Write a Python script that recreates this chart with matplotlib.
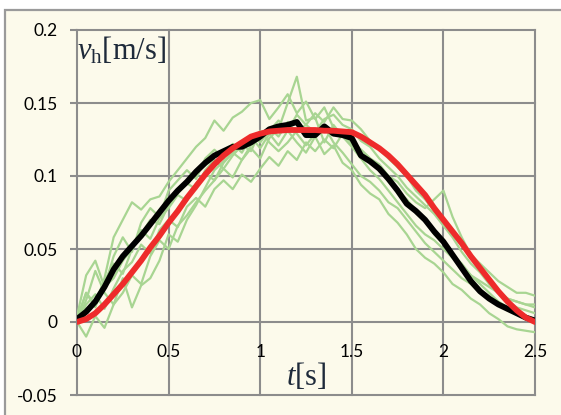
import matplotlib
matplotlib.use("Agg")
import matplotlib.pyplot as plt
import numpy as np
from matplotlib.patches import Rectangle

# sampled time axis (s)
t = np.arange(51) * 0.05

# model velocity (red)
v_model = [0.0, 0.002, 0.006, 0.012, 0.019, 0.026, 0.034, 0.042, 0.051, 0.059,
           0.068, 0.076, 0.085, 0.093, 0.101, 0.108, 0.114, 0.119, 0.123, 0.127,
           0.129, 0.1305, 0.131, 0.1315, 0.1315, 0.1315, 0.1315, 0.131, 0.131, 0.1305,
           0.130, 0.127, 0.123, 0.119, 0.114, 0.108, 0.101, 0.094, 0.087, 0.078,
           0.070, 0.062, 0.054, 0.045, 0.037, 0.029, 0.021, 0.014, 0.008, 0.003, 0.0]

# mean of trials (black)
v_mean = [0.002, 0.007, 0.014, 0.024, 0.036, 0.045, 0.052, 0.059, 0.067, 0.075,
          0.083, 0.090, 0.096, 0.103, 0.109, 0.114, 0.117, 0.120, 0.120, 0.123,
          0.127, 0.132, 0.134, 0.135, 0.137, 0.128, 0.128, 0.134, 0.129, 0.128,
          0.126, 0.114, 0.110, 0.105, 0.098, 0.090, 0.081, 0.076, 0.070, 0.062,
          0.055, 0.046, 0.037, 0.028, 0.021, 0.016, 0.012, 0.009, 0.006, 0.003, 0.001]

# single trials (green)
trial1 = [0.004, 0.032, 0.042, 0.024, 0.045, 0.058, 0.048, 0.068, 0.078, 0.072,
          0.090, 0.097, 0.104, 0.098, 0.112, 0.118, 0.112, 0.122, 0.116, 0.127,
          0.119, 0.129, 0.121, 0.131, 0.123, 0.116, 0.127, 0.115, 0.121, 0.109,
          0.104, 0.094, 0.088, 0.084, 0.074, 0.068, 0.060, 0.050, 0.044, 0.040,
          0.034, 0.026, 0.022, 0.016, 0.012, 0.006, 0.002, -0.003, -0.005, -0.006, -0.007]
trial2 = [0.0, -0.010, 0.004, -0.004, 0.012, 0.020, 0.032, 0.026, 0.045, 0.056,
          0.050, 0.066, 0.073, 0.082, 0.090, 0.097, 0.105, 0.099, 0.111, 0.119,
          0.112, 0.126, 0.132, 0.150, 0.168, 0.138, 0.140, 0.123, 0.135, 0.127,
          0.124, 0.118, 0.112, 0.108, 0.100, 0.096, 0.088, 0.082, 0.078, 0.084,
          0.090, 0.072, 0.058, 0.046, 0.036, 0.028, 0.022, 0.016, 0.014, 0.012, 0.012]
trial3 = [0.002, 0.020, 0.012, 0.030, 0.058, 0.070, 0.082, 0.077, 0.084, 0.086,
          0.096, 0.104, 0.112, 0.120, 0.126, 0.138, 0.131, 0.140, 0.144, 0.150,
          0.152, 0.139, 0.147, 0.156, 0.143, 0.151, 0.139, 0.147, 0.133, 0.127,
          0.120, 0.112, 0.104, 0.098, 0.090, 0.082, 0.074, 0.066, 0.060, 0.056,
          0.050, 0.044, 0.038, 0.032, 0.028, 0.024, 0.020, 0.016, 0.014, 0.012, 0.010]
trial4 = [0.0, 0.012, 0.019, 0.009, 0.023, 0.035, 0.041, 0.053, 0.047, 0.063,
          0.070, 0.065, 0.079, 0.085, 0.079, 0.091, 0.097, 0.091, 0.101, 0.096,
          0.105, 0.113, 0.107, 0.117, 0.111, 0.123, 0.117, 0.125, 0.119, 0.129,
          0.122, 0.118, 0.112, 0.104, 0.100, 0.090, 0.084, 0.076, 0.070, 0.060,
          0.054, 0.046, 0.040, 0.032, 0.026, 0.020, 0.014, 0.010, 0.006, 0.004, 0.002]
trial5 = [0.0, 0.015, 0.035, 0.020, 0.012, 0.030, 0.010, 0.025, 0.030, 0.042,
          0.060, 0.055, 0.070, 0.080, 0.092, 0.104, 0.110, 0.116, 0.121, 0.117,
          0.131, 0.123, 0.117, 0.123, 0.131, 0.135, 0.143, 0.137, 0.147, 0.139,
          0.138, 0.132, 0.124, 0.118, 0.112, 0.106, 0.100, 0.090, 0.084, 0.076,
          0.066, 0.058, 0.048, 0.040, 0.034, 0.026, 0.020, 0.014, 0.010, 0.008, 0.006]
trial6 = [0.002, 0.020, 0.010, 0.028, 0.040, 0.033, 0.050, 0.063, 0.057, 0.071,
          0.078, 0.087, 0.083, 0.095, 0.102, 0.097, 0.109, 0.116, 0.111, 0.121,
          0.126, 0.133, 0.127, 0.137, 0.129, 0.121, 0.129, 0.134, 0.123, 0.116,
          0.108, 0.100, 0.096, 0.090, 0.082, 0.078, 0.070, 0.062, 0.054, 0.048,
          0.042, 0.036, 0.030, 0.026, 0.020, 0.016, 0.012, 0.008, 0.005, 0.002, 0.0]
trial7 = [0.0, 0.006, 0.014, 0.024, 0.030, 0.042, 0.050, 0.060, 0.070, 0.067,
          0.080, 0.088, 0.095, 0.091, 0.104, 0.111, 0.105, 0.114, 0.121, 0.128,
          0.123, 0.131, 0.138, 0.131, 0.142, 0.135, 0.130, 0.139, 0.142, 0.135,
          0.132, 0.124, 0.120, 0.112, 0.106, 0.100, 0.092, 0.086, 0.080, 0.074,
          0.066, 0.060, 0.052, 0.046, 0.040, 0.034, 0.028, 0.024, 0.020, 0.020, 0.018]
trials = [trial1, trial2, trial3, trial4, trial5, trial6, trial7]

xticks = [0, 0.5, 1, 1.5, 2, 2.5]
xticklabels = ['0', '0.5', '1', '1.5', '2', '2.5']
yticks = [-0.05, 0, 0.05, 0.1, 0.15, 0.2]
yticklabels = ['-0.05', '0', '0.05', '0.1', '0.15', '0.2']

W, H = 561, 415
fig = plt.figure(figsize=(W / 100, H / 100), dpi=100)
fig.patch.set_facecolor('white')
fig.patches.append(Rectangle((5 / W, -0.01), 1.0, 1 - 10 / H + 0.01,
                             transform=fig.transFigure, facecolor='#FCFAEB',
                             edgecolor='#9A9A9A', linewidth=1.6, zorder=-10))

ax = fig.add_axes([77 / W, 1 - 395 / H, (535 - 77) / W, (395 - 30) / H])
ax.set_facecolor('none')

grid_c = '#8C8C8C'
for sp in ax.spines.values():
    sp.set_visible(False)
ax.set_xlim(0, 2.5)
ax.set_ylim(-0.05, 0.2)
ax.set_xticks(xticks)
ax.set_xticklabels(xticklabels)
ax.set_yticks(yticks)
ax.set_yticklabels(yticklabels)
ax.grid(True, color=grid_c, linewidth=1.5, clip_on=False, zorder=0)
ax.set_axisbelow(True)
ax.tick_params(axis='y', length=5, width=1.5, color=grid_c, pad=9,
               labelsize=12.5, labelcolor='black')
ax.tick_params(axis='x', length=0, pad=-37, labelsize=12.5, labelcolor='black')
for lab in ax.get_xticklabels() + ax.get_yticklabels():
    lab.set_family('Lato')

for tr in trials:
    ax.plot(t, tr, color='#A8D592', linewidth=1.6, zorder=2)
ax.plot(t, v_mean, color='black', linewidth=4.2, zorder=3)
ax.plot(t, v_model, color='#EE2B2B', linewidth=4.2, zorder=4,
        solid_capstyle='round')

plt.rcParams['mathtext.fontset'] = 'custom'
plt.rcParams['mathtext.rm'] = 'Liberation Serif'
plt.rcParams['mathtext.it'] = 'Liberation Serif:italic'
lab_c = '#1E2A3A'
fig.text(77 / W, 1 - 60 / H, r'$v_{\mathrm{h}}$[m/s]', family='Liberation Serif',
         fontsize=22, color=lab_c, ha='left', va='baseline')
fig.text(286 / W, 1 - 385 / H, r'$t$[s]', family='Liberation Serif',
         fontsize=22, color=lab_c, ha='left', va='baseline')

fig.savefig('out.png', dpi=100)
